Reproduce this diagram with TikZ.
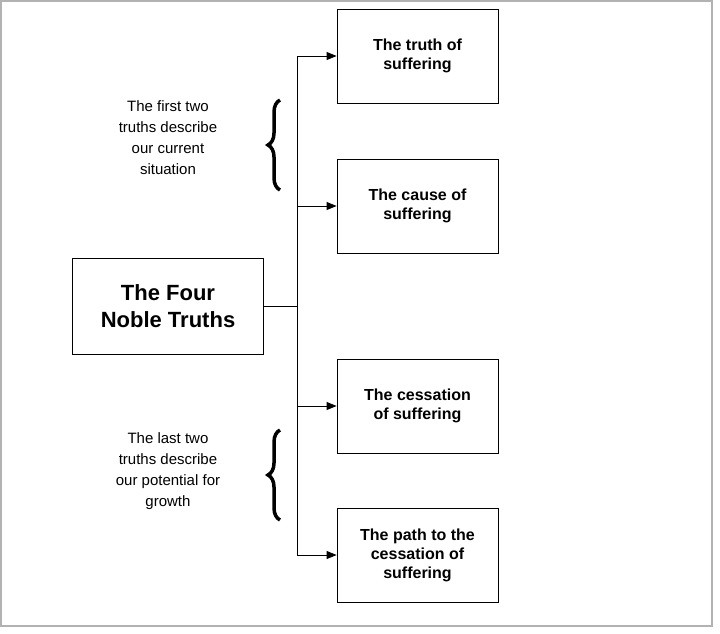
\documentclass[tikz,border=0pt]{standalone}
\usepackage{fontspec}
\setmainfont{Liberation Sans}
\usetikzlibrary{arrows.meta,decorations.pathreplacing}
\begin{document}
\begin{tikzpicture}[x=1pt,y=-1pt,
  box/.style={draw,line width=0.8pt,minimum width=161pt,minimum height=94pt,align=center,font=\bfseries\fontsize{16}{19}\selectfont},
  note/.style={align=center,font=\fontsize{15}{21}\selectfont},
  arr/.style={-{Triangle[length=10pt,width=8pt]},line width=0.8pt},
  br/.style={decorate,decoration={brace,amplitude=12pt,mirror},line width=3.5pt}]
\useasboundingbox (0,0) rectangle (720,633);
\draw[gray!60,line width=1.5pt] (1,1) rectangle (712,626);
\node[draw,line width=0.8pt,minimum width=191pt,minimum height=96pt,align=center,font=\bfseries\fontsize{22}{27}\selectfont] (m) at (168,306) {The Four\\Noble Truths};
\node[box] (b1) at (417.5,56) {The truth of\\suffering};
\node[box] (b2) at (417.5,206) {The cause of\\suffering};
\node[box] (b3) at (417.5,406) {The cessation\\of suffering};
\node[box] (b4) at (417.5,555) {The path to the\\cessation of\\suffering};
\coordinate (j) at (297,306);
\coordinate (t) at (297,56);
\coordinate (bt) at (297,555);
\draw[line width=0.8pt] (m.east) -- (j);
\draw[line width=0.8pt] (t) -- (bt);
\draw[arr] (t) -- (b1.west);
\draw[arr] (297,206) -- (b2.west);
\draw[arr] (297,406) -- (b3.west);
\draw[arr] (bt) -- (b4.west);
\coordinate (ba) at (280,100);
\coordinate (bb) at (280,190);
\draw[br] (ba) -- (bb);
\coordinate (bc) at (280,430);
\coordinate (bd) at (280,520);
\draw[br] (bc) -- (bd);
\node[note] (n1) at (168,138) {The first two\\truths describe\\our current\\situation};
\node[note] (n2) at (168,471) {The last two\\truths describe\\our potential for\\growth};
\end{tikzpicture}
\end{document}
